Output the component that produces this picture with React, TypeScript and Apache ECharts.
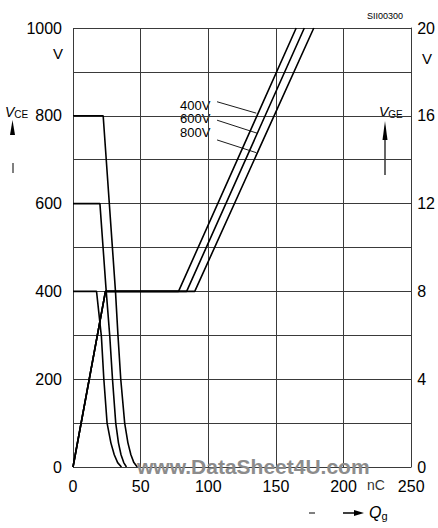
import React, { useEffect, useRef } from 'react';
import * as echarts from 'echarts';

// Gate charge Qg (nC) vs collector-emitter voltage VCE (V)
const vce400: number[][] = [[0, 400], [17.4, 400], [21, 297], [22.8, 200], [25.2, 100], [28, 55], [30.5, 28], [33, 10], [35.8, 0]];
const vce600: number[][] = [[0, 600], [19.9, 600], [24.3, 411], [27.2, 297], [29.2, 200], [31.6, 100], [33.6, 55], [35.5, 28], [37.5, 10], [39.5, 0]];
const vce800: number[][] = [[0, 800], [22.3, 800], [31.4, 400], [33.3, 297], [35.3, 200], [38.2, 100], [40.6, 55], [42.8, 28], [45, 10], [47.5, 0]];

// Gate charge Qg (nC) vs gate-emitter voltage VGE (V)
const vge400: number[][] = [[0, 0], [24, 8], [78, 8], [165, 20]];
const vge600: number[][] = [[0, 0], [24, 8], [84, 8], [171, 20]];
const vge800: number[][] = [[0, 0], [24, 8], [90, 8], [178, 20]];

const curveLabels = ['400V', '600V', '800V'];
// leader lines (nC, VCE-scale) from label to curve
const leader400: number[][] = [[106.5, 832], [135.5, 806]];
const leader600: number[][] = [[106.5, 790], [136.5, 760]];
const leader800: number[][] = [[106.5, 745], [135.5, 716]];

const xTicks = [0, 50, 100, 150, 200, 250];
const leftTicks = [0, 200, 400, 600, 800, 1000];
const rightTicks = [0, 4, 8, 12, 16, 20];

const FONT = "'Liberation Sans', Arial, sans-serif";

export default function App() {
  const ref = useRef<HTMLDivElement>(null);
  useEffect(() => {
    if (!ref.current) return;
    const chart = echarts.init(ref.current, null, { renderer: 'svg' });
    const curve = (data: number[][], yIdx: number) => ({
      type: 'line',
      data,
      yAxisIndex: yIdx,
      showSymbol: false,
      symbol: 'none',
      lineStyle: { color: '#000', width: 1.6 },
      z: 5,
    });
    const leader = (data: number[][]) => ({
      type: 'line',
      data,
      yAxisIndex: 0,
      symbol: 'none',
      lineStyle: { color: '#000', width: 0.9 },
      z: 4,
    });
    const subRich = {
      v: { fontFamily: FONT, fontStyle: 'italic', fontSize: 14, lineHeight: 16, color: '#000' },
      s: { fontFamily: FONT, fontSize: 10, lineHeight: 16, padding: [5, 0, 0, 0], color: '#000' },
    };
    const curveLabel = (text: string, y: number) => ({
      type: 'text', x: 180, y,
      style: { text, fill: '#000', fontFamily: FONT, fontSize: 13, lineHeight: 13, verticalAlign: 'middle' },
    });
    chart.setOption({
      animation: false,
      backgroundColor: '#fff',
      grid: { left: 73, right: 25, top: 28, bottom: 61, containLabel: false },
      xAxis: {
        type: 'value',
        min: xTicks[0],
        max: xTicks[xTicks.length - 1],
        interval: 50,
        axisLine: { show: false },
        axisTick: { show: false },
        axisLabel: { color: '#000', fontSize: 16, fontFamily: FONT, margin: 11 },
        splitLine: { show: true, lineStyle: { color: '#3a3a3a', width: 1 } },
      },
      yAxis: [
        {
          type: 'value',
          min: leftTicks[0],
          max: leftTicks[leftTicks.length - 1],
          interval: 100,
          axisLine: { show: false },
          axisTick: { show: false },
          axisLabel: {
            color: '#000', fontSize: 16, fontFamily: FONT, margin: 11,
            formatter: (v: number) => (leftTicks.indexOf(v) >= 0 ? String(v) : ''),
          },
          splitLine: { show: true, lineStyle: { color: '#3a3a3a', width: 1 } },
        },
        {
          type: 'value',
          min: rightTicks[0],
          max: rightTicks[rightTicks.length - 1],
          interval: 4,
          position: 'right',
          axisLine: { show: true, lineStyle: { color: '#3a3a3a', width: 1 } },
          axisTick: { show: false },
          axisLabel: { color: '#000', fontSize: 16, fontFamily: FONT, margin: 6 },
          splitLine: { show: false },
        },
      ],
      series: [
        curve(vce400, 0),
        curve(vce600, 0),
        curve(vce800, 0),
        curve(vge400, 1),
        curve(vge600, 1),
        curve(vge800, 1),
        leader(leader400),
        leader(leader600),
        leader(leader800),
      ],
      graphic: [
        { type: 'text', left: 367, top: 11, style: { text: 'SII00300', fill: '#000', font: `9px ${FONT}` } },
        { type: 'text', x: 58, y: 53, style: { text: 'V', fill: '#000', font: `15px ${FONT}`, align: 'center', verticalAlign: 'middle' } },
        { type: 'text', x: 427, y: 58, style: { text: 'V', fill: '#000', font: `15px ${FONT}`, align: 'center', verticalAlign: 'middle' } },
        curveLabel(curveLabels[0], 105),
        curveLabel(curveLabels[1], 118.5),
        curveLabel(curveLabels[2], 132),
        // V_CE
        { type: 'text', x: 5, y: 104, style: { text: '{v|V}{s|CE}', rich: subRich } },
        { type: 'polygon', shape: { points: [[10, 135], [15, 135], [12.5, 120]] }, style: { fill: '#000' } },
        { type: 'line', shape: { x1: 13, y1: 163, x2: 13, y2: 173 }, style: { stroke: '#000', lineWidth: 1 } },
        // V_GE
        { type: 'text', x: 379, y: 104, style: { text: '{v|V}{s|GE}', rich: subRich } },
        { type: 'polygon', shape: { points: [[382.5, 140], [387.5, 140], [385, 121]] }, style: { fill: '#000' } },
        { type: 'line', shape: { x1: 385, y1: 138, x2: 385, y2: 175 }, style: { stroke: '#000', lineWidth: 1.2 } },
        // nC unit
        { type: 'text', x: 376, y: 485, style: { text: 'nC', fill: '#333', font: `14px ${FONT}`, align: 'center', verticalAlign: 'middle' } },
        // Q_g
        { type: 'line', shape: { x1: 309, y1: 513, x2: 315, y2: 513 }, style: { stroke: '#000', lineWidth: 1 } },
        { type: 'line', shape: { x1: 343, y1: 513, x2: 356, y2: 513 }, style: { stroke: '#000', lineWidth: 1.5 } },
        { type: 'polygon', shape: { points: [[354, 510], [354, 516], [364, 513]] }, style: { fill: '#000' } },
        {
          type: 'text', x: 369, y: 503,
          style: {
            text: '{v|Q}{s|g}',
            rich: {
              v: { fontFamily: FONT, fontStyle: 'italic', fontSize: 16, lineHeight: 18, color: '#000' },
              s: { fontFamily: FONT, fontSize: 11, lineHeight: 18, padding: [8, 0, 0, 0], color: '#000' },
            },
          },
        },
        // watermark
        { type: 'text', x: 137, y: 466, z: 10, style: { text: 'www.DataSheet4U.com', fill: '#8c8c8c', font: `bold 21px ${FONT}`, lineHeight: 17, verticalAlign: 'middle' } },
      ],
    });
    return () => chart.dispose();
  }, []);
  return <div ref={ref} style={{ position: 'absolute', left: 0, top: 0, width: 438, height: 528 }} />;
}
